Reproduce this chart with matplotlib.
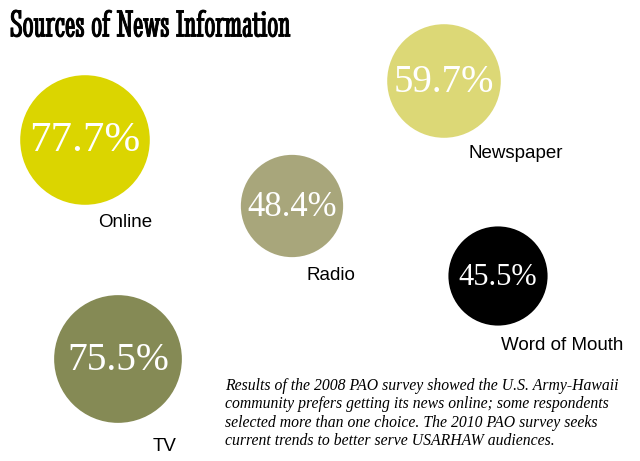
import matplotlib
matplotlib.use("Agg")
import matplotlib.pyplot as plt
from matplotlib.patches import Circle
import matplotlib.patheffects as pe
import numpy as np

# Data
categories = ["Online", "Newspaper", "Radio", "Word of Mouth", "TV"]
values = [77.7, 59.7, 48.4, 45.5, 75.5]

# Layout / style (pixel coordinates, y downward)
centers_x = [85, 444, 292, 498, 118]
centers_y = [140, 81, 206, 276, 359]
label_x = [125, 516, 331, 562, 165]
label_y = [222, 153, 275, 345, 446]
colors = ["#dbd500", "#dcd876", "#a8a67b", "#000000", "#858a55"]
pct_sizes = [31, 28, 25, 22, 28.5]
scale = 7.35  # radius in px per sqrt(percent)

W, H = 640, 461
fig = plt.figure(figsize=(W / 100, H / 100), dpi=100)
ax = fig.add_axes([0, 0, 1, 1])
ax.set_xlim(0, W)
ax.set_ylim(H, 0)
ax.set_aspect("equal")
ax.axis("off")

for cat, v, cx, cy, lx, ly, col, fs in zip(categories, values, centers_x, centers_y,
                                           label_x, label_y, colors, pct_sizes):
    r = scale * np.sqrt(v)
    ax.add_patch(Circle((cx, cy), r, facecolor=col, edgecolor="none"))
    ax.text(cx, cy + 1, f"{v:.1f}%", color="white", ha="center", va="center",
            fontsize=fs, family="Liberation Serif")
    ax.text(lx, ly, cat, color="black", ha="center", va="center",
            fontsize=13.5, family="Liberation Sans")

ax.text(10, 27, "Sources of News Information", ha="left", va="center",
        fontsize=28, family=["Stint Ultra Condensed", "Liberation Serif"],
        fontweight="bold",
        path_effects=[pe.withStroke(linewidth=0.6, foreground="black")])

note = ("Results of the 2008 PAO survey showed the U.S. Army-Hawaii\n"
        "community prefers getting its news online; some respondents\n"
        "selected more than one choice. The 2010 PAO survey seeks\n"
        "current trends to better serve USARHAW audiences.")
ax.text(225, 378, note, ha="left", va="top", fontsize=11.3,
        family="Liberation Serif", style="italic", linespacing=1.2)

fig.savefig("out.png", dpi=100)
